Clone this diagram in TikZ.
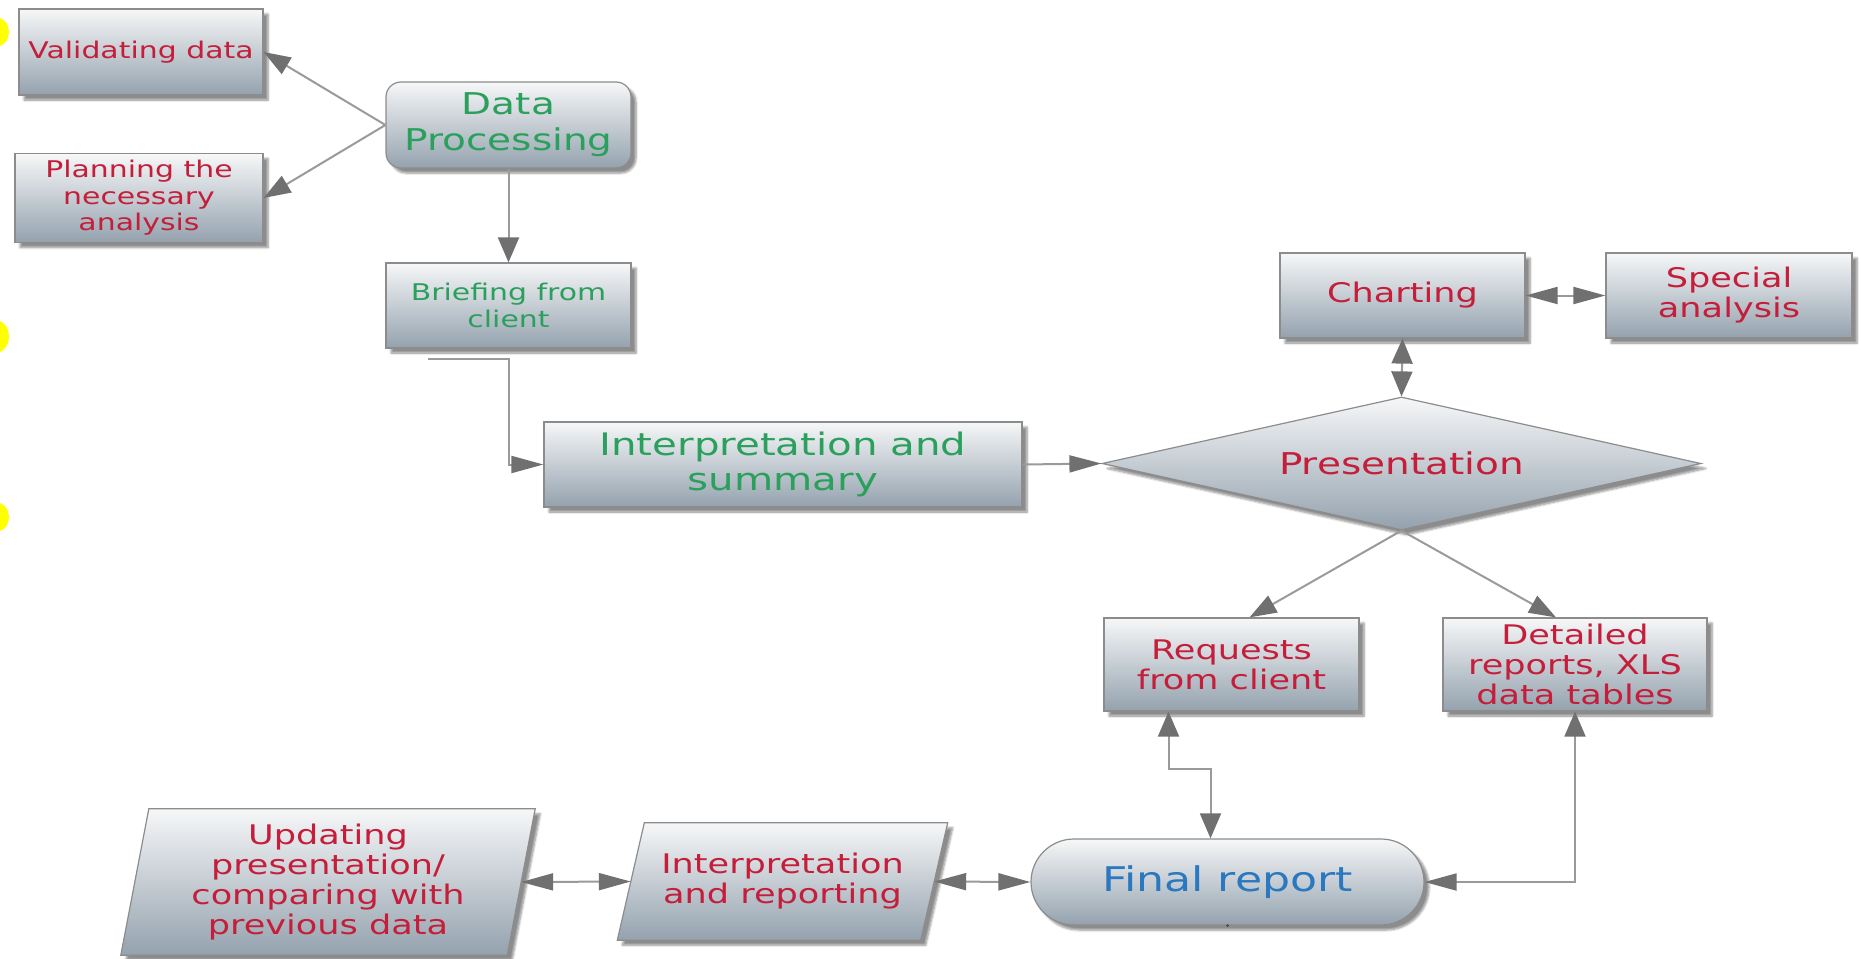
\documentclass[tikz,border=0pt]{standalone}
\usepackage{fontspec}
\setmainfont{DejaVu Sans}[FakeStretch=1.3]
\usetikzlibrary{arrows.meta,shapes.geometric,shadows.blur,backgrounds,calc}
\definecolor{redtxt}{HTML}{C41E3A}
\definecolor{grntxt}{HTML}{2AA05C}
\definecolor{blutxt}{HTML}{2A78C0}
\definecolor{boxtop}{HTML}{F6F7F8}
\definecolor{boxbot}{HTML}{94A2AE}
\definecolor{boxline}{HTML}{8C8C8C}
\definecolor{linegray}{HTML}{9A9A9A}
\definecolor{tipgray}{HTML}{707070}
\definecolor{marky}{HTML}{FFFF00}
\tikzset{
  hT/.tip={Triangle[length=32pt,width=17pt,color=tipgray]},
  vT/.tip={Triangle[length=25pt,width=21pt,color=tipgray]},
  dT/.tip={Triangle[length=27pt,width=19pt,color=tipgray]},
  fs/.style 2 args={font=\fontsize{#1}{#2}\selectfont},
  shade/.style={draw=boxline, line width=1.2pt, top color=boxtop, bottom color=boxbot,
    blur shadow={shadow xshift=5pt, shadow yshift=-5pt, shadow blur steps=6, shadow opacity=45}},
  box/.style={shade, align=center, inner sep=0pt},
  conn/.style={draw=linegray, line width=2pt},
}
\begin{document}
\begin{tikzpicture}[x=1pt,y=-1pt]
\useasboundingbox (0,0) rectangle (1862,958);
% edge marks
\fill[marky] (0,18) .. controls (12,22) and (12,42) .. (0,46) -- cycle;
\fill[marky] (0,321) .. controls (12,326) and (12,347) .. (0,352) -- cycle;
\fill[marky] (0,503) .. controls (12,507) and (12,527) .. (0,531) -- cycle;

% nodes
\node[box, fs={23}{26}, text=redtxt, minimum width=244pt, minimum height=86pt] (val) at (141,52) {Validating data};
\node[box, fs={23}{26.5}, text=redtxt, minimum width=248pt, minimum height=89pt] (plan) at (139,198) {Planning the\\necessary\\analysis};
\node[box, rounded corners=15pt, fs={30}{36}, text=grntxt, minimum width=245pt, minimum height=86pt] (dp) at (508.5,125) {Data\\Processing};
\node[box, fs={23}{26.5}, text=grntxt, minimum width=245pt, minimum height=85pt] (brief) at (508.5,305.5) {Briefing from\\client};
\node[box, fs={31}{34.5}, text=grntxt, minimum width=478pt, minimum height=85pt] (isum) at (783,464.5) {Interpretation and\\summary};
\node[box, diamond, aspect=4.5, fs={30}{33}, text=redtxt, minimum width=599pt, minimum height=133pt] (pres) at (1401.5,463.5) {Presentation};
\node[box, fs={27}{30}, text=redtxt, minimum width=245pt, minimum height=85pt] (chart) at (1402.5,295.5) {Charting};
\node[box, fs={27}{30}, text=redtxt, minimum width=246pt, minimum height=85pt] (spec) at (1729,295.5) {Special\\analysis};
\node[box, fs={27}{30}, text=redtxt, minimum width=255pt, minimum height=93pt] (req) at (1231.5,664.5) {Requests\\from client};
\node[box, fs={27}{30}, text=redtxt, minimum width=264pt, minimum height=93pt] (det) at (1575,664.5) {Detailed\\reports, XLS\\data tables};
\node[box, rounded corners=43pt, fs={34}{38}, text=blutxt, minimum width=393pt, minimum height=86pt] (fin) at (1227.5,882) {Final report};
\node[fs={27}{30}, text=redtxt, align=center, inner sep=0pt, minimum width=386pt, minimum height=146pt] (upd) at (328,882) {Updating\\presentation/\\comparing with\\previous data};
\node[fs={27}{30}, text=redtxt, align=center, inner sep=0pt, minimum width=303pt, minimum height=117pt] (irep) at (782.5,881.5) {Interpretation\\and reporting};
\begin{scope}[on background layer]
\path[shade] ([xshift=14pt]upd.north west) -- ([xshift=14pt]upd.north east) -- ([xshift=-14pt]upd.south east) -- ([xshift=-14pt]upd.south west) -- cycle;
\path[shade] ([xshift=13.5pt]irep.north west) -- ([xshift=13.5pt]irep.north east) -- ([xshift=-13.5pt]irep.south east) -- ([xshift=-13.5pt]irep.south west) -- cycle;
\end{scope}

% connectors
\draw[conn,-dT] (dp.west) -- (val.east);
\draw[conn,-dT] (dp.west) -- (plan.east);
\draw[conn,-vT] (dp.south) -- (brief.north);
\coordinate (bstub) at (428,359);
\draw[conn,-hT] (bstub) -- (bstub -| brief.south) |- (isum.west);
\draw[conn,-hT] (isum.east) -- (pres.west);
\draw[conn,vT-vT] (chart.south) -- (pres.north);
\draw[conn,hT-hT] (chart.east) -- (spec.west);
\draw[conn,-dT] (pres.south) -- ([xshift=18pt]req.north);
\draw[conn,-dT] (pres.south) -- ([xshift=-19pt]det.north);
\draw[conn,vT-vT] ([xshift=-63pt]req.south) -- ++(0,57) -| ([xshift=-17pt]fin.north);
\draw[conn,hT-vT] (fin.east) -| (det.south);
\draw[conn,hT-hT] (upd.east) -- (irep.west);
\draw[conn,hT-hT] (irep.east) -- (fin.west);
\fill[black!70] (fin.south) circle (1.6pt);
\end{tikzpicture}
\end{document}
